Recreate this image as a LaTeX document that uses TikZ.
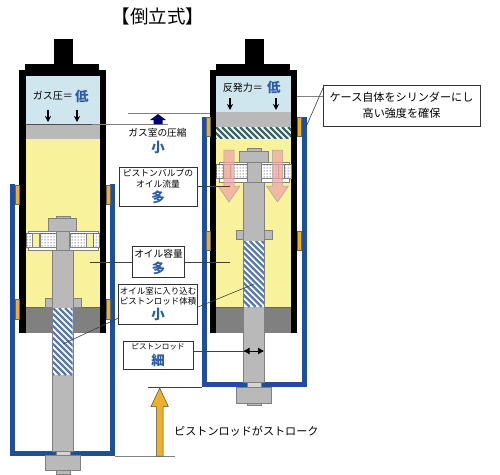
\documentclass[tikz,border=0pt]{standalone}
\usepackage{fontspec}
\setmainfont{Noto Sans CJK JP}
\usetikzlibrary{patterns,arrows.meta}
\definecolor{cblue}{HTML}{1F4E9C}
\definecolor{cyel}{HTML}{F7F29B}
\definecolor{cgas}{HTML}{CFE6EE}
\definecolor{cgr}{HTML}{B9B9B9}
\definecolor{cdk}{HTML}{808080}
\definecolor{cgold}{HTML}{EDB02B}
\definecolor{cpink}{HTML}{EFA5A5}
\definecolor{ctxt}{HTML}{2A5CA8}
\newcommand{\fs}[1]{\fontsize{#1}{11}\selectfont}
\newcommand{\bl}[1]{{\fontsize{13.5}{16}\selectfont\bfseries\color{ctxt}#1}}
\tikzset{
 metal/.style={fill=cgr,draw=cdk,line width=.6pt},
 blk/.style={fill=black,draw=none},
 gold/.style={fill=cgold,draw=black!60,line width=.3pt},
 case/.style={draw=cblue,line width=5pt,line cap=butt,line join=miter},
 lbl/.style={draw=black!80,line width=.8pt,fill=white,align=center,inner sep=0pt},
 lead/.style={draw=black!75,line width=.6pt},
 leadg/.style={draw=black!50,line width=.7pt},
 txt/.style={inner sep=0pt,align=center},
 down/.style={-{Stealth[length=6pt,width=6pt]},line width=1.2pt},
 pinkarrow/.style={fill=cpink,fill opacity=.75,draw=black!35,line width=.5pt},
 dotbox/.style={fill=white,draw=black!50,line width=.4pt},
}
% hatched rectangle: x1,y1,x2,y2,colour
\newcommand{\hatchrect}[5]{%
 \begin{scope}
 \clip (#1,#2) rectangle (#3,#4);
 \fill[white] (#1,#2) rectangle (#3,#4);
 \foreach \k in {-90,-84,...,150}{
  \draw[#5,line width=2.2pt] ({#1+\k},#2) -- ({#1+\k+(#4-#2)},#4);
 }
 \end{scope}}
% dotted block
\newcommand{\dotblock}[4]{%
 \draw[dotbox] (#1,#2) rectangle (#3,#4);
 \fill[pattern=dots,pattern color=black] (#1,#2) rectangle (#3,#4);}
% pink arrow: xc, ytop, tip
\newcommand{\pinka}[3]{%
 \draw[pinkarrow] ({#1-5.2},#2) -- ({#1+5.2},#2) -- ({#1+5.2},#3-16) -- ({#1+11},#3-16) -- (#1,#3) -- ({#1-11},#3-16) -- ({#1-5.2},#3-16) -- cycle;}
\begin{document}
\begin{tikzpicture}[x=1pt,y=-1pt]
\useasboundingbox (0,0) rectangle (500,474);
\fill[white] (0,0) rectangle (500,474);
\node[txt,font=\fs{18.5}] (title) at (158,16) {【倒立式】};

%% ---------- left unit ----------
\draw[case] (12.5,184) -- (12.5,453) -- (112.5,453) -- (112.5,184);
\fill[blk] (54,39) rectangle (72.5,65);
\fill[blk] (25,64) rectangle (99,71);
\fill[blk] (19,70) rectangle (106,333);
\fill[cgas] (25.5,76) rectangle (100,124);
\fill[cgr] (25.5,124) rectangle (100,139);
\draw[black!70,line width=.5pt] (25.5,124) -- (100,124);
\fill[cyel] (25.5,139) rectangle (100,308);
\fill[cdk] (25.5,307) rectangle (100,333);
\draw[black!60,line width=.5pt] (25.5,307.5) -- (100,307.5);
\draw[gold] (15,185) rectangle (19,204);
\draw[gold] (106,185) rectangle (110,204);
\draw[gold] (15,299) rectangle (19,319);
\draw[gold] (106,299) rectangle (110,319);
\draw[metal] (45,298) rectangle (52.5,307);
\draw[metal] (73,298) rectangle (81,307);
\draw[metal] (52.7,250) rectangle (73,451);
\hatchrect{53}{308}{72.7}{375}{cblue!75}
\draw[metal] (56,216) rectangle (70,219);
\draw[metal] (48.3,218) rectangle (76.7,231);
\draw[fill=white,draw=black!50,line width=.4pt] (28,231) rectangle (98,250);
\dotblock{26}{233}{32}{247}
\draw[dotbox,fill=cyel] (32,233) rectangle (39,247);
\dotblock{40}{233}{56}{247}
\dotblock{70}{233}{86}{247}
\draw[dotbox,fill=cyel] (86,233) rectangle (93,247);
\dotblock{93}{233}{99}{247}
\draw[metal] (56.5,231) rectangle (69.5,250);
\fill[cblue] (56,451) rectangle (70,456);
\draw[fill=cgr!60,draw=cdk,line width=.4pt] (56,451) rectangle (70,455);
\draw[metal] (45,455) rectangle (80.5,470);
\draw[metal] (56,470) rectangle (70,474);

%% ---------- right unit ----------
\draw[case] (204,117) -- (204,384.5) -- (304,384.5) -- (304,117);
\fill[blk] (245,39) rectangle (264,65);
\fill[blk] (216,64) rectangle (290,71);
\fill[blk] (210,70) rectangle (297,333);
\fill[cgas] (216,76) rectangle (291,112);
\fill[cgr] (216,112) rectangle (291,127);
\hatchrect{216}{127}{291}{139}{black!50!teal!80}
\fill[cyel] (216,139) rectangle (291,308);
\fill[cdk] (216,307) rectangle (291,333);
\draw[black!60,line width=.5pt] (216,307.5) -- (291,307.5);
\draw[gold] (206,117.5) rectangle (210,136);
\draw[gold] (297,117.5) rectangle (301,136);
\draw[gold] (206,231) rectangle (210,250);
\draw[gold] (297,231) rectangle (301,250);
\draw[metal] (236,230) rectangle (243.5,239);
\draw[metal] (264,230) rectangle (272,239);
\draw[metal] (243.3,182) rectangle (264.5,382);
\hatchrect{243.7}{241}{264.1}{307}{cblue!75}
\draw[metal] (247,148) rectangle (261,151);
\draw[metal] (239,151) rectangle (268,162);
\draw[fill=white,draw=black!50,line width=.4pt] (219,162) rectangle (289,182);
\dotblock{216}{164}{223}{178}
\draw[dotbox,fill=cyel] (223,164) rectangle (230,178);
\dotblock{230}{164}{247}{178}
\dotblock{261}{164}{278}{178}
\draw[dotbox,fill=cyel] (278,164) rectangle (284,178);
\dotblock{284}{164}{291}{178}
\draw[metal] (247,162) rectangle (261,182);
\pinka{229}{150}{202}
\pinka{277.5}{150}{202}
\draw[fill=cgr!60,draw=cdk,line width=.4pt] (247,382) rectangle (261,387);
\draw[metal] (236,387) rectangle (271,403);
\draw[metal] (247,403) rectangle (261,405);

%% ---------- gas texts and small arrows ----------
\node[txt,anchor=east,font=\fs{10}] (gl) at (73,96) {ガス圧＝};
\node[txt,anchor=west] (glv) at (75,96) {\bl{低}};
\node[txt,anchor=east,font=\fs{10}] (gr) at (263,88) {反発力＝};
\node[txt,anchor=west] (grv) at (267,87) {\bl{低}};
\coordinate (a1s) at (48,110); \coordinate (a1e) at (48,122);
\coordinate (a2s) at (77,110); \coordinate (a2e) at (77,122);
\coordinate (a3s) at (230,98); \coordinate (a3e) at (230,110);
\coordinate (a4s) at (276,98); \coordinate (a4e) at (276,110);
\draw[down] (a1s) -- (a1e);
\draw[down] (a2s) -- (a2e);
\draw[down] (a3s) -- (a3e);
\draw[down] (a4s) -- (a4e);

%% ---------- gas compression ----------
\coordinate (g1) at (128,113); \coordinate (g2) at (210,113);
\coordinate (g3) at (92,124.5); \coordinate (g4) at (168,124.5);
\draw[leadg] (g1) -- (g2);
\draw[leadg] (g3) -- (g4);
\fill[blue!45!black] (158,114) -- (166,120) -- (162.5,120) -- (162.5,124) -- (153.5,124) -- (153.5,120) -- (150,120) -- cycle;
\node[txt,font=\fs{9.7}] (gc) at (157.5,133) {ガス室の圧縮};
\node[txt] (gcv) at (158,147) {\bl{小}};

%% ---------- label boxes ----------
\node[lbl,minimum width=78pt,minimum height=39pt,font=\fs{8.8}] (b1) at (158,186.5) {ピストンバルブの\\[-0.5pt]オイル流量\\[1.5pt]\bl{多}};
\node[lbl,minimum width=52.5pt,minimum height=30.5pt,font=\fs{9.7}] (b2) at (158.5,262) {オイル容量\\[2pt]\bl{多}};
\node[lbl,minimum width=79pt,minimum height=40pt,font=\fs{8.5}] (b3) at (158,304) {オイル室に入り込む\\[-0.5pt]ピストンロッド体積\\[2pt]\bl{小}};
\node[lbl,minimum width=70pt,minimum height=28pt,font=\fs{7.6}] (b4) at (158,355) {ピストンロッド\\[2pt]\bl{細}};
\node[lbl,minimum width=157pt,minimum height=41pt,font=\fs{11.1},line width=1pt] (b5) at (401.5,105.5) {ケース自体をシリンダーにし\\[5pt]高い強度を確保};

\coordinate (c1) at (230,186);
\draw[lead] (b1.east |- c1) -- (c1);
\coordinate (c2a) at (90,262); \coordinate (c2b) at (230,262);
\draw[lead] (c2a) -- (b2.west);
\draw[lead] (b2.east) -- (c2b);
\coordinate (c3a) at (63,344); \coordinate (c3an) at (118.5,318);
\coordinate (c3b) at (254,284); \coordinate (c3bn) at (198,307);
\draw[lead] (c3a) -- (c3an);
\draw[lead] (c3bn) -- (c3b);
\coordinate (c4) at (245,351);
\draw[lead] (b4.east |- c4) -- (c4);
\coordinate (c4s) at (243.5,351); \coordinate (c4e) at (264,351);
\draw[{Latex[length=6pt,width=7pt]}-{Latex[length=6pt,width=7pt]},line width=.6pt] (c4s) -- (c4e);
\coordinate (c5a) at (297,96); \coordinate (c5b) at (306,127); \coordinate (c5c) at (323,88);
\draw[leadg] (c5a) -- (b5.west |- c5a);
\draw[lead] (c5b) -- (c5c);

%% ---------- stroke ----------
\coordinate (s1) at (148,387.5); \coordinate (s2) at (202,387.5);
\coordinate (s3) at (115,456); \coordinate (s4) at (175,456);
\draw[lead] (s1) -- (s2);
\draw[leadg] (s3) -- (s4);
\draw[fill=cgold,draw=black!70,line width=.5pt] (156.3,456) -- (156.3,406.5) -- (151,406.5) -- (159.7,388) -- (168.3,406.5) -- (163,406.5) -- (163,456) -- cycle;
\node[txt,anchor=west,font=\fs{11.1}] (st) at (174,431) {ピストンロッドがストローク};
\end{tikzpicture}
\end{document}
